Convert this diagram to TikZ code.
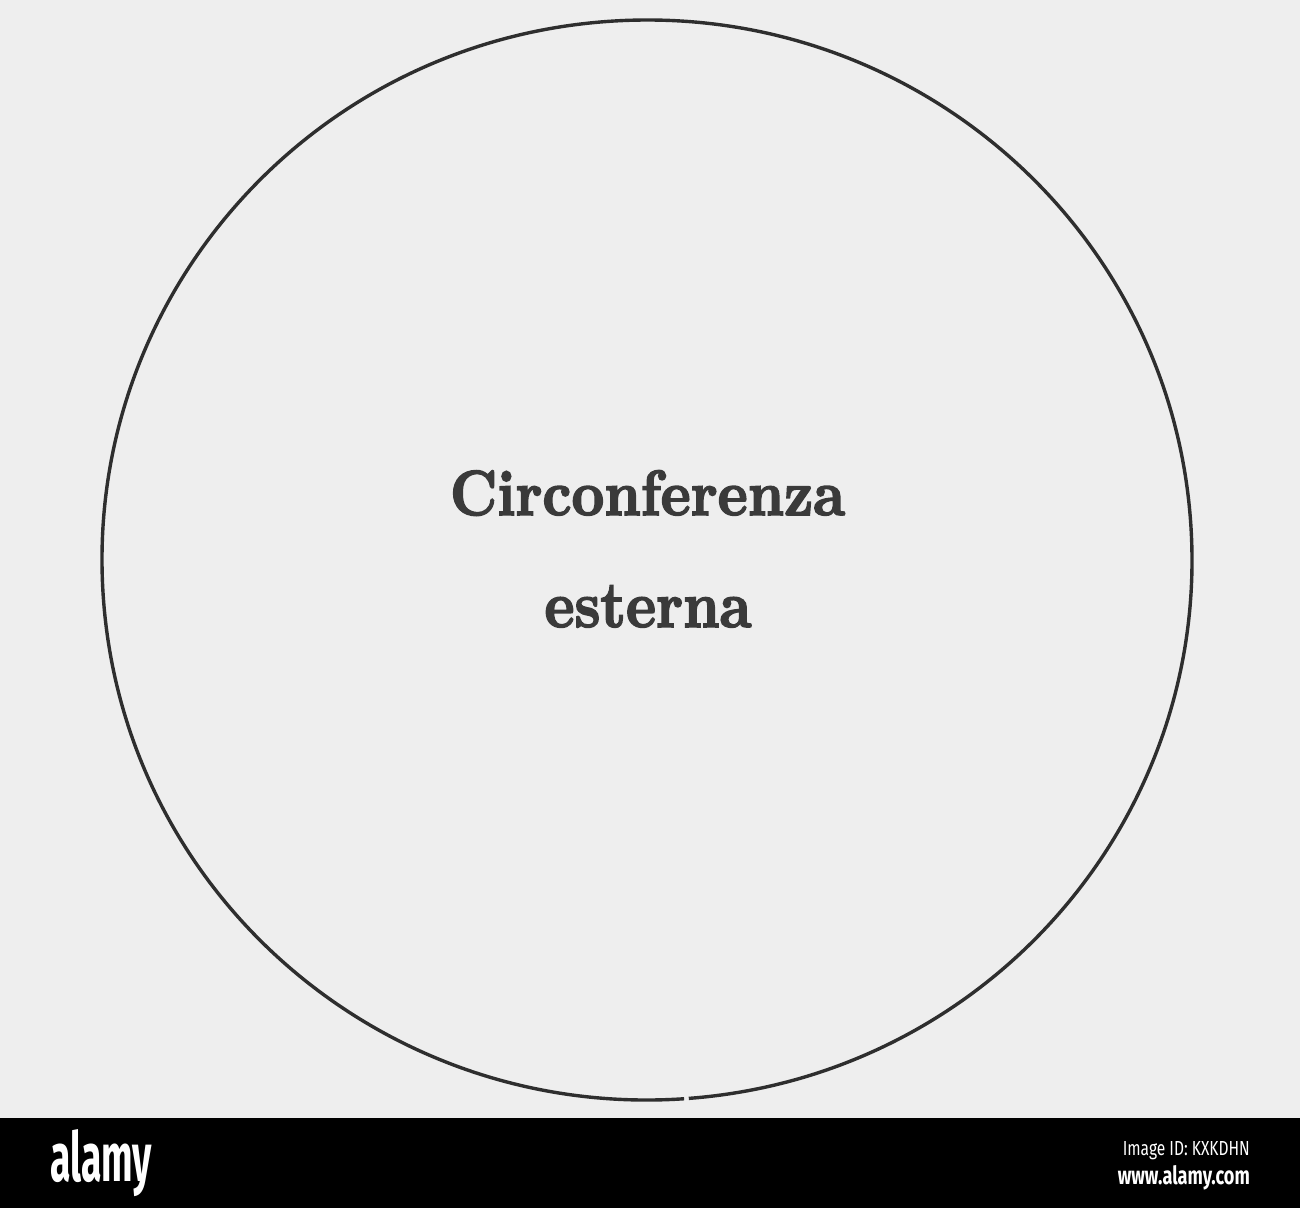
\documentclass[tikz,border=0pt]{standalone}
\usepackage{fontspec}
\newfontfamily\logofont{Fira Sans}
\newfontfamily\heavy{lmroman10-bold}[Extension=.otf,FakeBold=2.5]
\definecolor{paper}{HTML}{EEEEEE}
\definecolor{ink}{HTML}{2E2E2E}
\definecolor{textink}{HTML}{3A3A3A}
\begin{document}
\begin{tikzpicture}[x=1pt,y=-1pt,
  label/.style={anchor=base,inner sep=0pt,text=textink,font=\heavy},
  brand/.style={inner sep=0pt,text=white}]
\useasboundingbox (0,0) rectangle (1300,1208);
\fill[paper] (0,0) rectangle (1300,1118);
\fill[black] (0,1118) rectangle (1300,1208);
% outer circle with tiny gap at the bottom
\coordinate (c) at (647,560);
\draw[ink,line width=3.4pt] (c) ++(86.1:545 and 540) arc[start angle=86.1,end angle=445.6,x radius=545,y radius=540];
\node[label] (t1) at (647.5,515) {\resizebox{395pt}{!}{\scalebox{1}[1.12]{Circonferenza}}};
\node[label] (t2) at (648,627) {\resizebox{207pt}{!}{\scalebox{1}[1.15]{esterna}}};
% bottom band
\node[brand,anchor=west] (logo) at (50,1163) {\logofont\bfseries\resizebox{102pt}{52pt}{alamy}};
\node[brand,anchor=east] (imgid) at (1250,1151) {\logofont\resizebox{127pt}{14pt}{Image ID: KXKDHN}};
\node[brand,anchor=east] (www) at (1250,1178) {\logofont\bfseries\resizebox{132pt}{19pt}{www.alamy.com}};
\end{tikzpicture}
\end{document}
